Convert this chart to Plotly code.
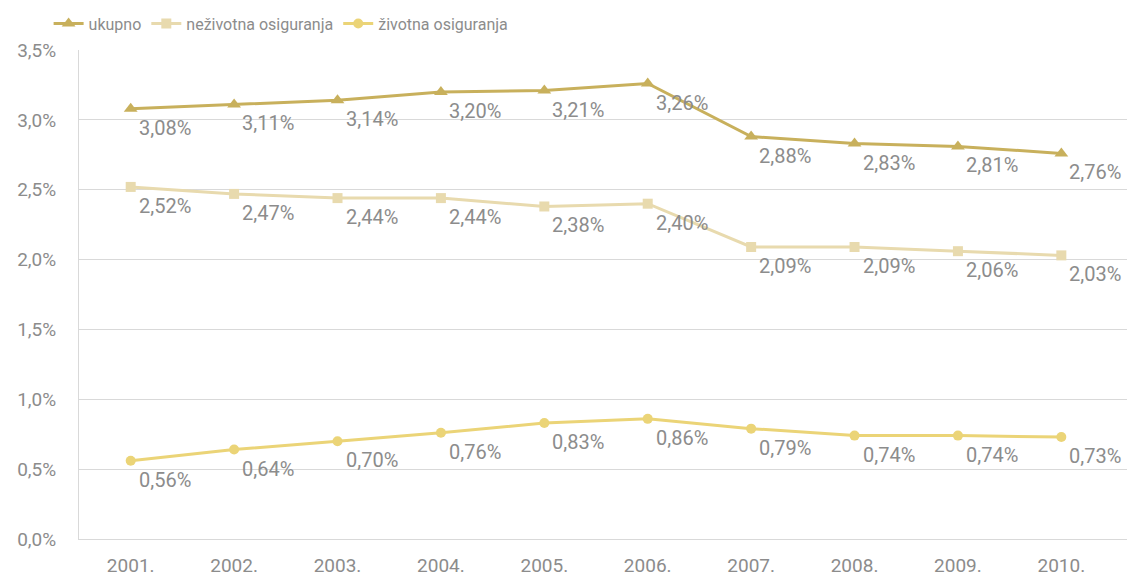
import plotly.graph_objects as go

years = ["2001.", "2002.", "2003.", "2004.", "2005.", "2006.", "2007.", "2008.", "2009.", "2010."]
ukupno = [3.08, 3.11, 3.14, 3.20, 3.21, 3.26, 2.88, 2.83, 2.81, 2.76]
nezivotna = [2.52, 2.47, 2.44, 2.44, 2.38, 2.40, 2.09, 2.09, 2.06, 2.03]
zivotna = [0.56, 0.64, 0.70, 0.76, 0.83, 0.86, 0.79, 0.74, 0.74, 0.73]
series_names = ["ukupno", "neživotna osiguranja", "životna osiguranja"]
y_ticks = [0, 0.5, 1.0, 1.5, 2.0, 2.5, 3.0, 3.5]

colors = ["#C8B05C", "#E8DAAE", "#EBD477"]
symbols = ["triangle-up", "square", "circle"]
marker_sizes = [12, 10, 10]
label_color = "#8C8C8C"

def fmt(v):
    return f"{v:.2f}".replace(".", ",") + "%"

fig = go.Figure()
annotations = []
for name, vals, col, sym, ms in zip(series_names, [ukupno, nezivotna, zivotna], colors, symbols, marker_sizes):
    fig.add_trace(go.Scatter(
        x=years, y=vals, name=name, mode="lines+markers",
        line=dict(color=col, width=3),
        marker=dict(symbol=sym, size=ms, color=col),
        hoverinfo="skip",
    ))
    for i, v in enumerate(vals):
        annotations.append(dict(x=i, y=v, xref="x", yref="y", text=fmt(v), showarrow=False,
                                xanchor="center", yanchor="middle",
                                xshift=34, yshift=-19,
                                font=dict(family="Roboto", size=20, color=label_color)))

fig.update_layout(
    width=1127, height=578,
    margin=dict(l=79, r=0, t=50, b=39, autoexpand=False),
    paper_bgcolor="white", plot_bgcolor="white",
    showlegend=True,
    annotations=annotations,
    legend=dict(orientation="h", x=-0.029, y=1.054, xanchor="left", yanchor="middle",
                font=dict(family="Roboto", size=16, color="#8C8C8C"),
                bgcolor="rgba(0,0,0,0)"),
    font=dict(family="Roboto", color="#8C8C8C"),
)
fig.update_xaxes(type="category", range=[-0.5, 9.635], showgrid=False,
                 showline=True, linecolor="#D9D9D9", linewidth=1,
                 tickfont=dict(family="Roboto", size=19, color="#8C8C8C"),
                 ticks="outside", ticklen=9, tickcolor="rgba(0,0,0,0)", automargin=False)
fig.update_yaxes(range=[0, 3.5], tickvals=y_ticks,
                 ticktext=[f"{t:.1f}".replace(".", ",") + "%" for t in y_ticks],
                 showgrid=True, gridcolor="#D9D9D9", gridwidth=1,
                 showline=True, linecolor="#D9D9D9", linewidth=1,
                 zeroline=False,
                 tickfont=dict(family="Roboto", size=19, color="#8C8C8C"),
                 ticks="outside", ticklen=18, tickcolor="rgba(0,0,0,0)", automargin=False)

fig.write_html("out.html", config={"displayModeBar": False},
               post_script="document.body.style.margin='0';document.body.style.overflow='hidden';")
